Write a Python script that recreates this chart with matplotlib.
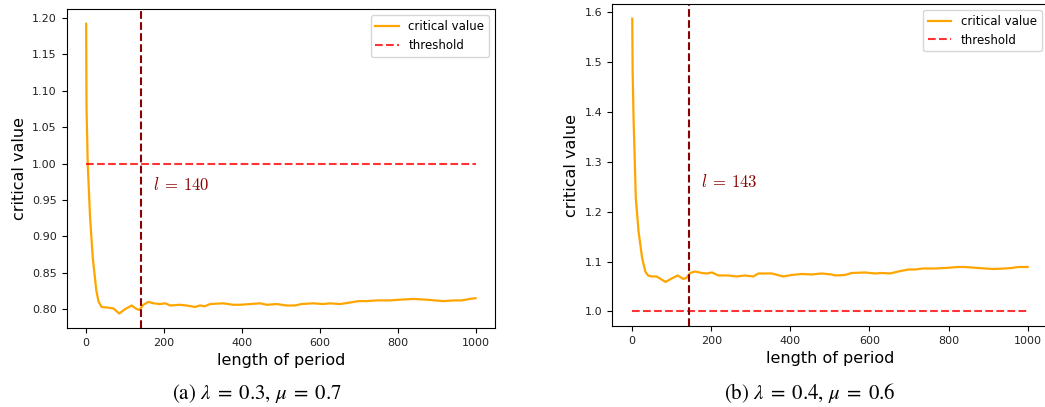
"""
Critical value vs. length of period, for two (lambda, mu) settings.
"""

import matplotlib
matplotlib.use("Agg")
import matplotlib.pyplot as plt

# (a) lambda = 0.3, mu = 0.7
period_a = [0, 1, 3, 4, 10, 17, 26, 32, 40, 57, 70, 85, 100, 117, 130, 137,
            147, 160, 173, 190, 203, 216, 241, 258, 280, 292, 305, 318, 352,
            378, 395, 421, 447, 464, 489, 515, 536, 553, 583, 609, 626, 652,
            677, 699, 720, 746, 780, 806, 840, 874, 917, 943, 964, 985, 1000]
crit_a = [1.192, 1.075, 1.027, 1.000, 0.927, 0.871, 0.826, 0.810, 0.803, 0.802,
          0.801, 0.794, 0.800, 0.805, 0.800, 0.799, 0.806, 0.810, 0.808, 0.807,
          0.808, 0.805, 0.806, 0.805, 0.803, 0.805, 0.804, 0.807, 0.808, 0.806,
          0.806, 0.807, 0.808, 0.806, 0.807, 0.805, 0.805, 0.807, 0.808, 0.807,
          0.808, 0.807, 0.809, 0.811, 0.811, 0.812, 0.812, 0.813, 0.814, 0.813,
          0.811, 0.812, 0.812, 0.814, 0.815]

# (b) lambda = 0.4, mu = 0.6
period_b = [0, 1, 3.5, 6, 9, 16, 25, 33, 40, 49, 61, 70, 84, 100, 115, 129,
            137, 146, 159, 176, 188, 202, 218, 243, 264, 285, 306, 319, 353,
            382, 403, 429, 454, 479, 504, 513, 538, 555, 589, 614, 631, 652,
            673, 698, 715, 736, 766, 791, 825, 842, 875, 913, 943, 960, 976, 1000]
crit_b = [1.587, 1.481, 1.381, 1.314, 1.227, 1.160, 1.107, 1.080, 1.072, 1.070,
          1.070, 1.066, 1.059, 1.066, 1.072, 1.065, 1.067, 1.077, 1.080, 1.077,
          1.076, 1.078, 1.072, 1.072, 1.070, 1.072, 1.070, 1.076, 1.076, 1.070,
          1.073, 1.075, 1.074, 1.076, 1.074, 1.072, 1.073, 1.077, 1.078, 1.076,
          1.077, 1.076, 1.080, 1.084, 1.084, 1.086, 1.086, 1.087, 1.089, 1.089,
          1.087, 1.085, 1.086, 1.087, 1.089, 1.089]

threshold = 1.0
cutoffs = [140, 143]
captions = [r"(a) $\lambda\;=\;0.3$, $\mu\;=\;0.7$",
            r"(b) $\lambda\;=\;0.4$, $\mu\;=\;0.6$"]


def draw_panel(ax, period, crit, cutoff, label_y):
    ax.plot(period, crit, color="orange", lw=1.6, label="critical value")
    ax.plot([period[0], period[-1]], [threshold, threshold], "--",
            color="red", alpha=0.8, lw=1.5, label="threshold")
    ax.axvline(cutoff, color="darkred", ls="--", lw=1.5)
    ax.text(cutoff + 32, label_y, rf"$l\:=\:{cutoff}$", math_fontfamily="cm",
            color="darkred", fontsize=12, ha="left", va="center")
    ax.set_xlabel("length of period", fontsize=11.5)
    ax.set_ylabel("critical value", fontsize=11.5)
    ax.tick_params(labelsize=8, labelcolor="#222222")
    ax.legend(loc="upper right", fontsize=8.5)


fig = plt.figure(figsize=(10.45, 4.07), dpi=100)
ax_a = fig.add_axes([0.0638, 0.1941, 0.4099, 0.7830])
ax_b = fig.add_axes([0.5861, 0.1990, 0.4162, 0.7910])

draw_panel(ax_a, period_a, crit_a, cutoffs[0], 0.970)
draw_panel(ax_b, period_b, crit_b, cutoffs[1], 1.26)
ax_a.set_yticks([0.80, 0.85, 0.90, 0.95, 1.00, 1.05, 1.10, 1.15, 1.20])
ax_a.set_yticklabels([f"{v:.2f}" for v in ax_a.get_yticks()])

# sub-figure captions, LaTeX-like serif
for cx, cap in zip([0.246, 0.775], captions):
    fig.text(cx, 0.034, cap, ha="center", va="center", fontsize=15,
             family="STIXGeneral", math_fontfamily="stix")

fig.savefig("out.png", dpi=100)
